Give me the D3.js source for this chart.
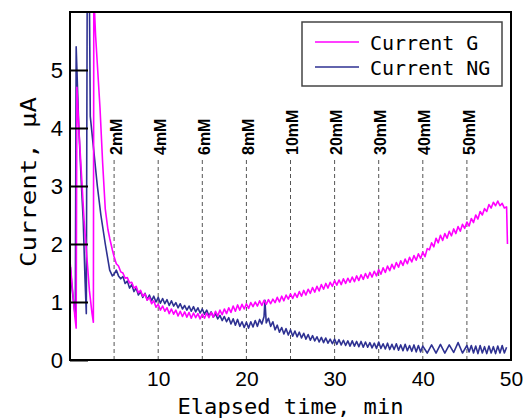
<!DOCTYPE html>
<html><head><meta charset="utf-8">
<script src="https://cdn.jsdelivr.net/npm/d3@7"></script>
<style>body{margin:0;background:#fff}svg{display:block}</style>
</head><body>
<svg id="c" width="529" height="419"></svg>
<script>
const seriesNames = ["Current G", "Current NG"];
const seriesColors = ["#ff00ff", "#2e3192"];
const xTicks = [10, 20, 30, 40, 50];
const yTicks = [0, 1, 2, 3, 4, 5];
const markerTimes = [5, 10, 15, 20, 25, 30, 35, 40, 45];
const markerLabels = ["2mM", "4mM", "6mM", "8mM", "10mM", "20mM", "30mM", "40mM", "50mM"];

const currentG = [
[0,1.7],[0.15,1.45],[0.35,1.1],[0.55,0.75],[0.7,0.55],[0.78,4.7],[1.0,4.0],[1.3,3.2],[1.6,2.4],[1.9,1.8],[2.2,1.2],[2.5,0.8],[2.65,0.65],
[2.7,6.3],[2.9,5.6],[3.1,5.1],[3.4,4.35],[3.7,3.4],[4.0,2.6],[4.3,2.25],[4.5,2.1],[4.8,1.9],
[5.00,1.78],[5.25,1.66],[5.50,1.62],[5.75,1.52],[6.00,1.50],[6.25,1.41],[6.50,1.42],[6.75,1.33],[7.00,1.34],[7.25,1.24],[7.50,1.27],[7.75,1.16],
[8.00,1.20],[8.25,1.10],[8.50,1.14],[8.75,1.03],[9.00,1.08],[9.25,0.97],[9.50,1.02],[9.75,0.91],[10.00,0.96],[10.25,0.86],[10.50,0.93],[10.75,0.84],
[11.00,0.90],[11.25,0.80],[11.50,0.88],[11.75,0.79],[12.00,0.86],[12.25,0.76],[12.50,0.84],[12.75,0.75],[13.00,0.83],[13.25,0.74],[13.50,0.82],[13.75,0.72],
[14.00,0.81],[14.25,0.73],[14.50,0.80],[14.75,0.71],[15.00,0.79],[15.25,0.72],[15.50,0.81],[15.75,0.73],[16.00,0.82],[16.25,0.74],[16.50,0.84],[16.75,0.76],
[17.00,0.86],[17.25,0.78],[17.50,0.88],[17.75,0.80],[18.00,0.90],[18.25,0.82],[18.50,0.93],[18.75,0.84],[19.00,0.95],[19.25,0.86],[19.50,0.96],[19.75,0.88],
[20.00,0.97],[20.25,0.89],[20.50,0.99],[20.75,0.92],[21.00,1.00],[21.25,0.93],[21.50,1.02],[21.75,0.94],[22.00,1.03],[22.25,0.96],[22.50,1.04],[22.75,0.97],
[23.00,1.05],[23.25,0.99],[23.50,1.08],[23.75,1.00],[24.00,1.10],[24.25,1.02],[24.50,1.12],[24.75,1.05],[25.00,1.14],[25.25,1.06],[25.50,1.15],[25.75,1.08],
[26.00,1.18],[26.25,1.10],[26.50,1.20],[26.75,1.12],[27.00,1.22],[27.25,1.15],[27.50,1.25],[27.75,1.17],[28.00,1.27],[28.25,1.19],[28.50,1.30],[28.75,1.22],
[29.00,1.32],[29.25,1.24],[29.50,1.34],[29.75,1.27],[30.00,1.37],[30.25,1.29],[30.50,1.38],[30.75,1.30],[31.00,1.40],[31.25,1.32],[31.50,1.41],[31.75,1.34],
[32.00,1.43],[32.25,1.35],[32.50,1.45],[32.75,1.37],[33.00,1.47],[33.25,1.39],[33.50,1.49],[33.75,1.41],[34.00,1.51],[34.25,1.43],[34.50,1.53],[34.75,1.45],
[35.00,1.56],[35.25,1.48],[35.50,1.59],[35.75,1.51],[36.00,1.62],[36.25,1.54],[36.50,1.65],[36.75,1.57],[37.00,1.68],[37.25,1.60],[37.50,1.71],[37.75,1.63],
[38.00,1.74],[38.25,1.66],[38.50,1.77],[38.75,1.69],[39.00,1.80],[39.25,1.72],[39.50,1.83],[39.75,1.75],[40.00,1.86],[40.25,1.78],[40.50,1.92],[40.75,1.90],
[41.00,2.02],[41.25,1.95],[41.50,2.10],[41.75,2.02],[42.00,2.15],[42.25,2.06],[42.50,2.18],[42.75,2.10],[43.00,2.22],[43.25,2.14],[43.50,2.26],[43.75,2.18],
[44.00,2.30],[44.25,2.22],[44.50,2.34],[44.75,2.27],[45.00,2.38],[45.25,2.31],[45.50,2.44],[45.75,2.37],[46.00,2.50],[46.25,2.43],[46.50,2.56],[46.75,2.50],
[47.00,2.61],[47.25,2.56],[47.50,2.68],[47.75,2.62],[48.00,2.72],[48.25,2.66],[48.50,2.74],[48.75,2.66],[49.00,2.70],[49.25,2.62],[49.50,2.64],[49.6,2.0]
];

const currentNG = [
[0,0],[0.05,1.6],[0.2,1.3],[0.4,1.0],[0.6,0.75],[0.7,5.4],[1.0,4.0],[1.3,3.0],[1.5,2.4],[1.7,1.4],[1.85,0.8],
[1.95,6.3],[2.2,6.3],[2.3,4.2],[2.7,3.6],[3.1,3.0],[3.5,2.5],[4.0,2.0],[4.5,1.55],[4.8,1.45],
[5.00,1.48],[5.25,1.55],[5.50,1.45],[5.75,1.40],[6.00,1.44],[6.25,1.32],[6.50,1.36],[6.75,1.24],[7.00,1.30],[7.25,1.18],[7.50,1.24],[7.75,1.12],
[8.00,1.18],[8.25,1.08],[8.50,1.15],[8.75,1.04],[9.00,1.12],[9.25,1.02],[9.50,1.10],[9.75,1.00],[10.00,1.08],[10.25,0.98],[10.50,1.06],[10.75,0.97],
[11.00,1.04],[11.25,0.94],[11.50,1.02],[11.75,0.93],[12.00,0.99],[12.25,0.90],[12.50,0.97],[12.75,0.88],[13.00,0.94],[13.25,0.86],[13.50,0.93],[13.75,0.84],
[14.00,0.92],[14.25,0.83],[14.50,0.90],[14.75,0.81],[15.00,0.88],[15.25,0.79],[15.50,0.86],[15.75,0.76],[16.00,0.83],[16.25,0.74],[16.50,0.80],[16.75,0.71],
[17.00,0.77],[17.25,0.68],[17.50,0.75],[17.75,0.66],[18.00,0.73],[18.25,0.62],[18.50,0.71],[18.75,0.60],[19.00,0.70],[19.25,0.58],[19.50,0.66],[19.75,0.56],
[20.00,0.65],[20.25,0.55],[20.50,0.66],[20.75,0.57],[21.00,0.68],[21.25,0.58],[21.50,0.70],[21.75,0.62],[22.00,0.75],[22.10,1.03],[22.25,0.64],[22.50,0.72],[22.75,0.58],
[23.00,0.66],[23.25,0.52],[23.50,0.60],[23.75,0.48],[24.00,0.56],[24.25,0.45],[24.50,0.54],[24.75,0.43],[25.00,0.52],[25.25,0.41],[25.50,0.50],[25.75,0.40],
[26.00,0.48],[26.25,0.38],[26.50,0.46],[26.75,0.36],[27.00,0.44],[27.25,0.34],[27.50,0.42],[27.75,0.33],[28.00,0.40],[28.25,0.31],[28.50,0.39],[28.75,0.30],
[29.00,0.38],[29.25,0.29],[29.50,0.36],[29.75,0.28],[30.00,0.36],[30.25,0.27],[30.50,0.35],[30.75,0.26],[31.00,0.34],[31.25,0.25],[31.50,0.33],[31.75,0.24],
[32.00,0.33],[32.25,0.24],[32.50,0.32],[32.75,0.23],[33.00,0.32],[33.25,0.22],[33.50,0.31],[33.75,0.22],[34.00,0.30],[34.25,0.21],[34.50,0.29],[34.75,0.20],
[35.00,0.31],[35.25,0.20],[35.50,0.28],[35.75,0.19],[36.00,0.29],[36.25,0.18],[36.50,0.27],[36.75,0.18],[37.00,0.28],[37.25,0.17],[37.50,0.26],[37.75,0.16],
[38.00,0.27],[38.25,0.16],[38.50,0.25],[38.75,0.15],[39.00,0.26],[39.25,0.14],[39.50,0.25],[39.75,0.14],[40.00,0.24],[40.50,0.12],[41.00,0.26],[41.50,0.12],
[42.00,0.27],[42.50,0.12],[43.00,0.26],[43.50,0.13],[44.00,0.30],[44.50,0.12],[45.00,0.25],[45.25,0.14],[45.50,0.25],[45.75,0.12],[46.00,0.24],[46.25,0.11],
[46.50,0.25],[46.75,0.12],[47.00,0.23],[47.25,0.11],[47.50,0.24],[47.75,0.12],[48.00,0.23],[48.25,0.11],[48.50,0.24],[48.75,0.12],[49.00,0.25],[49.25,0.12],[49.50,0.22]
];

const svg = d3.select("#c");
const L = 70, R = 511, T = 12, B = 360;
const x = d3.scaleLinear().domain([0, 50]).range([L, R]);
const y = d3.scaleLinear().domain([0, 6]).range([B, T]);

svg.append("defs").append("clipPath").attr("id", "clip")
  .append("rect").attr("x", L).attr("y", T).attr("width", R - L).attr("height", B - T);

// dashed marker lines and labels
const mk = svg.append("g");
mk.selectAll("line").data(markerTimes).join("line")
  .attr("x1", d => x(d)).attr("x2", d => x(d))
  .attr("y1", B).attr("y2", 160)
  .attr("stroke", "#555").attr("stroke-width", 1).attr("stroke-dasharray", "4,3");
mk.selectAll("text").data(markerTimes).join("text")
  .attr("transform", d => `translate(${x(d) + 2},155) rotate(-90)`)
  .attr("dy", "0.35em")
  .attr("font-family", "'Liberation Sans Narrow','Liberation Sans',sans-serif")
  .attr("font-size", 16).attr("font-weight", "bold").attr("fill", "#000")
  .text((d, i) => markerLabels[i]);

// lines
const line = d3.line().x(d => x(d[0])).y(d => y(d[1]));
const lg = svg.append("g").attr("clip-path", "url(#clip)");
lg.append("path").datum(currentNG).attr("d", line).attr("fill", "none")
  .attr("stroke", seriesColors[1]).attr("stroke-width", 1.6).attr("stroke-linejoin", "round");
lg.append("path").datum(currentG).attr("d", line).attr("fill", "none")
  .attr("stroke", seriesColors[0]).attr("stroke-width", 1.6).attr("stroke-linejoin", "round");

// axes
const ya = svg.append("g").attr("transform", `translate(${L},0)`)
  .call(d3.axisLeft(y).tickValues(yTicks).tickSize(-18).tickPadding(7).tickFormat(d3.format("d")));
ya.select(".domain").remove();
ya.selectAll(".tick line").attr("stroke", "#000").attr("stroke-width", 2);
ya.selectAll(".tick text").attr("font-family", "'Liberation Sans',Arial,sans-serif").attr("font-size", 22).attr("fill", "#000");

const xa = svg.append("g").attr("transform", `translate(0,${B})`)
  .call(d3.axisBottom(x).tickValues(xTicks).tickSize(0).tickPadding(11).tickFormat(d3.format("d")));
xa.select(".domain").remove();
xa.selectAll(".tick text").attr("font-family", "'Liberation Sans',Arial,sans-serif").attr("font-size", 21).attr("fill", "#000");

// frame
svg.append("rect").attr("x", L).attr("y", T).attr("width", R - L).attr("height", B - T)
  .attr("fill", "none").attr("stroke", "#000").attr("stroke-width", 2);

// titles
svg.append("text").attr("x", (L + R) / 2).attr("y", 414).attr("text-anchor", "middle")
  .attr("font-family", "'DejaVu Sans Mono',monospace").attr("font-size", 21)
  .attr("textLength", 226).attr("lengthAdjust", "spacingAndGlyphs")
  .text("Elapsed time, min");
svg.append("text").attr("transform", `translate(36,182) rotate(-90)`).attr("text-anchor", "middle")
  .attr("font-family", "'DejaVu Sans Mono',monospace").attr("font-size", 22)
  .attr("textLength", 170).attr("lengthAdjust", "spacingAndGlyphs")
  .text("Current, μA");

// legend
const leg = svg.append("g");
leg.append("rect").attr("x", 302).attr("y", 22).attr("width", 200).attr("height", 64)
  .attr("fill", "#fff").attr("stroke", "#444").attr("stroke-width", 1.5);
seriesNames.forEach((n, i) => {
  const yy = 42 + i * 25;
  leg.append("line").attr("x1", 315).attr("x2", 359).attr("y1", yy).attr("y2", yy)
    .attr("stroke", seriesColors[i]).attr("stroke-width", 1.5);
  leg.append("text").attr("x", 370).attr("y", yy + 8)
    .attr("font-family", "'DejaVu Sans Mono',monospace").attr("font-size", 20)
    .text(n);
});
</script>
</body></html>
